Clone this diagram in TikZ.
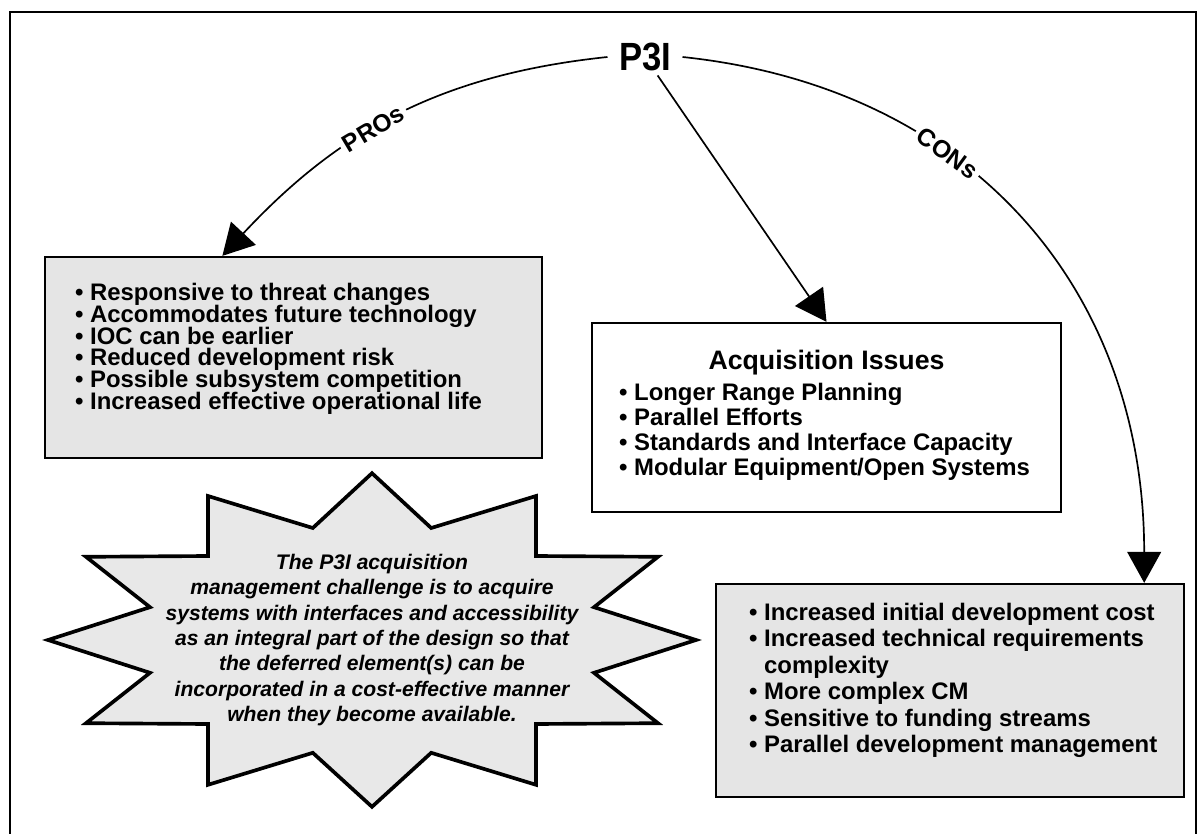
\documentclass[tikz,border=0pt]{standalone}
\usepackage{fontspec}
\setmainfont{Liberation Sans}
\newfontfamily\headfont{Liberation Sans}[FakeStretch=0.88]
\usetikzlibrary{positioning,arrows.meta}
\lineskiplimit=-20pt

\begin{document}
\begin{tikzpicture}[
        box/.style={draw, line width=1.6pt, fill=black!10, inner sep=0pt},
        points/.style={inner sep=0pt, align=left, anchor=north west,
            font={\bfseries\fontsize{17pt}{#1}\selectfont}},
        points/.default=17pt,
        title/.style={inner sep=0pt, font=\bfseries\fontsize{19pt}{22pt}\selectfont},
        tag/.style={fill=white, inner sep=3pt, font=\bfseries\fontsize{17.5pt}{20pt}\selectfont},
        arrow/.style={line width=1.2pt, -{Triangle[length=22pt, width=24pt]}},
        burst/.style={draw, line width=2.6pt, fill=black!9, line join=miter},
        note/.style={align=center, inner sep=0pt,
            font=\bfseries\itshape\fontsize{15pt}{18pt}\selectfont}]
    \useasboundingbox (0,0) rectangle (30.05,-20.85);
    \draw[line width=1.4pt] (0.25,-20.85) |- (29.9,-0.29) -- (29.9,-20.85);

    \node[inner xsep=8pt, inner ysep=3pt, font=\headfont\bfseries\fontsize{28pt}{32pt}\selectfont]
        (p3i) at (16.125,-1.425) {P3I};

    \node[box, minimum width=12.425cm, minimum height=5.025cm] (pros) at (7.3375,-8.9375) {};
    \node[points=15.5pt, below right=0.675cm and 0.775cm of pros.north west] (proslist)
        {\textbullet\ Responsive to threat changes\\
         \textbullet\ Accommodates future technology\\
         \textbullet\ IOC can be earlier\\
         \textbullet\ Reduced development risk\\
         \textbullet\ Possible subsystem competition\\
         \textbullet\ Increased effective operational life};

    \node[box, fill=white, minimum width=11.725cm, minimum height=4.725cm] (issues) at (20.6625,-10.4375) {};
    \node[title, below=0.69cm of issues.north] (issuestitle) {Acquisition Issues};
    \node[points=17.8pt, below right=1.525cm and 0.7cm of issues.north west] (issueslist)
        {\textbullet\ Longer Range Planning\\
         \textbullet\ Parallel Efforts\\
         \textbullet\ Standards and Interface Capacity\\
         \textbullet\ Modular Equipment/Open Systems};

    \node[box, minimum width=11.7cm, minimum height=5.325cm] (cons) at (23.75,-17.2625) {};
    \node[points=18.8pt, below right=0.5cm and 0.85cm of cons.north west] (conslist)
        {\textbullet\ Increased initial development cost\\
         \textbullet\ Increased technical requirements\\
         \phantom{\textbullet\ }complexity\\
         \textbullet\ More complex CM\\
         \textbullet\ Sensitive to funding streams\\
         \textbullet\ Parallel development management};

    % starburst note
    \coordinate (burst) at (9.3,-16);
    \draw[burst, shift={(burst)}] (0,4.17) -- (1.48,2.8) -- (4.1,3.6) -- (4.1,2.1)
        -- (7.15,2.08) -- (5.55,0.82) -- (8.1,0) -- (5.55,-0.82) -- (7.15,-2.08)
        -- (4.1,-2.1) -- (4.1,-3.62) -- (1.48,-2.82) -- (0,-4.17) -- (-1.48,-2.82)
        -- (-4.1,-3.62) -- (-4.1,-2.1) -- (-7.15,-2.08) -- (-5.55,-0.82) -- (-8.1,0)
        -- (-5.55,0.82) -- (-7.15,2.08) -- (-4.1,2.1) -- (-4.1,3.6) -- (-1.48,2.8) -- cycle;
    \node[note] (challenge) at (burst)
        {The P3I acquisition\\
         management challenge is to acquire\\
         systems with interfaces and accessibility\\
         as an integral part of the design so that\\
         the deferred element(s) can be\\
         incorporated in a cost-effective manner\\
         when they become available.};

    \draw[arrow] (p3i.west) to[out=186, in=47]
        node[tag, pos=0.56, sloped] {PROs} (pros.125);
    \draw[arrow] (p3i) -- (issues.north);
    \draw[arrow] (p3i.east) to[out=-6, in=90, looseness=1.07]
        node[tag, pos=0.36, sloped] {CONs} (cons.29.5);
\end{tikzpicture}
\end{document}
